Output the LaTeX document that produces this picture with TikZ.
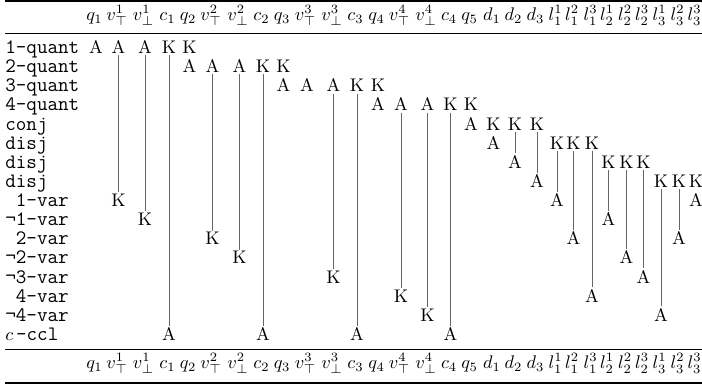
\documentclass[tikz,border=0pt]{standalone}
\usepackage{fontspec}
\begin{document}
\begin{tikzpicture}[x=0.546448pt,y=-0.546448pt,scale=1.83,
  every node/.append style={transform shape},
  ent/.style={anchor=base,inner sep=0.8pt,font=\fontsize{10}{12}\selectfont},
  hd/.style={anchor=base,inner sep=0pt,font=\fontsize{10}{12}\selectfont},
  lab/.style={anchor=base west,inner sep=0pt,font=\ttfamily\fontsize{11.2}{13}\selectfont},
  vline/.style={draw=black!60,line width=0.8pt},
  thickrule/.style={line width=1.6pt},
  thinrule/.style={line width=0.9pt}]
\useasboundingbox[fill=white] (0,0) rectangle (702,391);
% column positions
\foreach \c/\x in {0/96,1/118.5,2/145,3/169,4/189.5,5/212.5,6/239.5,7/263,8/283.5,9/307,10/333.5,11/357,12/378,13/401,14/427.5,15/450.5,16/471,17/493.5,18/515,19/537,20/557,21/573.5,22/592,23/608.5,24/626.5,25/643.5,26/661,27/679,28/696}{
  \coordinate (C\c) at (\x,0);
  \coordinate (HT\c) at (\x-1.5,20.5);
  \coordinate (HB\c) at (\x-1.5,368.5);
}
% row positions
\foreach \r in {0,...,15}
  \coordinate (R\r) at (5,{53.5+19.13*\r});
% rules
\coordinate (TL) at (5,1);   \coordinate (TR) at (702,1);
\coordinate (ML) at (5,33);  \coordinate (MR) at (702,33);
\coordinate (NL) at (5,349); \coordinate (NR) at (702,349);
\coordinate (BL) at (5,383); \coordinate (BR) at (702,383);
\draw[thickrule] (TL) -- (TR);
\draw[thinrule] (ML) -- (MR);
\draw[thinrule] (NL) -- (NR);
\draw[thickrule] (BL) -- (BR);
% headers
\foreach \c/\t in {0/q_1,1/v^1_\top,2/v^1_\bot,3/c_1,4/q_2,5/v^2_\top,6/v^2_\bot,7/c_2,8/q_3,9/v^3_\top,10/v^3_\bot,11/c_3,12/q_4,13/v^4_\top,14/v^4_\bot,15/c_4,16/q_5,17/d_1,18/d_2,19/d_3,20/l^1_1,21/l^2_1,22/l^3_1,23/l^1_2,24/l^2_2,25/l^3_2,26/l^1_3,27/l^2_3,28/l^3_3}{
  \node[hd] (h\c) at (HT\c) {$\t$};
  \node[hd] (f\c) at (HB\c) {$\t$};
}
% row labels
\foreach \r/\t in {0/1-quant,1/2-quant,2/3-quant,3/4-quant,4/conj,5/disj,6/disj,7/disj,8/\hphantom{1}1-var,9/¬1-var,10/\hphantom{1}2-var,11/¬2-var,12/¬3-var,13/\hphantom{1}4-var,14/¬4-var,15/\makebox[0.525em][l]{\fontsize{10}{12}\selectfont$c$}-ccl}
  \node[lab] (L\r) at (R\r) {\t};
% entries
\foreach \r/\c/\t in {
  0/0/A,0/1/A,0/2/A,0/3/K,0/4/K,
  1/4/A,1/5/A,1/6/A,1/7/K,1/8/K,
  2/8/A,2/9/A,2/10/A,2/11/K,2/12/K,
  3/12/A,3/13/A,3/14/A,3/15/K,3/16/K,
  4/16/A,4/17/K,4/18/K,4/19/K,
  5/17/A,5/20/K,5/21/K,5/22/K,
  6/18/A,6/23/K,6/24/K,6/25/K,
  7/19/A,7/26/K,7/27/K,7/28/K,
  8/1/K,8/20/A,8/28/A,
  9/2/K,9/23/A,
  10/5/K,10/21/A,10/27/A,
  11/6/K,11/24/A,
  12/10/K,12/25/A,
  13/13/K,13/22/A,
  14/14/K,14/26/A,
  15/3/A,15/7/A,15/11/A,15/15/A}
  \node[ent] (n\r-\c) at (C\c |- R\r) {\t};
% connectors
\foreach \c/\a/\b in {1/0/8,2/0/9,3/0/15,5/1/10,6/1/11,7/1/15,10/2/12,11/2/15,13/3/13,14/3/14,15/3/15,18/4/6,19/4/7,20/5/8,21/5/10,22/5/13,23/6/9,24/6/11,25/6/12,26/7/14,27/7/10}
  \draw[vline] (n\a-\c.south) -- (n\b-\c.north);
\end{tikzpicture}
\end{document}
